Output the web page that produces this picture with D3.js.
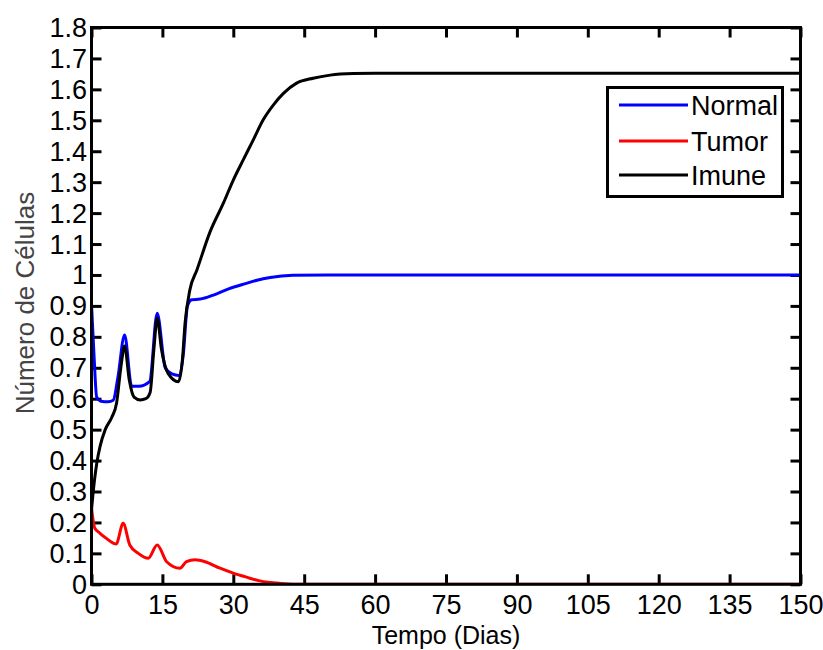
<!DOCTYPE html>
<html>
<head>
<meta charset="utf-8">
<script src="https://cdn.jsdelivr.net/npm/d3@7"></script>
<style>
  html, body { margin: 0; padding: 0; background: #fff; }
  svg { display: block; }
  text { font-family: "Liberation Sans", Arial, sans-serif; fill: #000; }
</style>
</head>
<body>
<svg id="chart" width="823" height="650"></svg>
<script>
// ---- data ----
const xTicks = [0, 15, 30, 45, 60, 75, 90, 105, 120, 135, 150];
const yTicks = [0, 0.1, 0.2, 0.3, 0.4, 0.5, 0.6, 0.7, 0.8, 0.9, 1, 1.1, 1.2, 1.3, 1.4, 1.5, 1.6, 1.7, 1.8];
const seriesNames = ["Normal", "Tumor", "Imune"];
const seriesColors = ["#0000ff", "#ff0000", "#000000"];

const normalT = [0, 0.5, 1.1, 2, 3.5, 4.6, 5.6, 7.0, 8.5, 10, 12.3, 13.9, 15.6, 17, 18.5, 19.4, 20.3, 21.2, 23, 25.8, 29, 32.8, 35, 37.8, 42.6, 50, 150];
const normalV = [0.905, 0.75, 0.605, 0.592, 0.59, 0.595, 0.67, 0.806, 0.64, 0.64, 0.655, 0.876, 0.70, 0.68, 0.675, 0.74, 0.9, 0.92, 0.922, 0.935, 0.955, 0.973, 0.983, 0.992, 0.999, 1.0, 1.0];

const tumorT = [0, 0.7, 1.8, 3, 4.6, 5.2, 6.7, 8.1, 9.9, 12, 13.9, 15.9, 18.7, 20.1, 21.9, 24, 27.2, 30, 32.8, 35.6, 39.9, 45, 150];
const tumorV = [0.246, 0.181, 0.165, 0.15, 0.133, 0.13, 0.197, 0.127, 0.1, 0.084, 0.127, 0.073, 0.052, 0.073, 0.079, 0.073, 0.052, 0.036, 0.023, 0.011, 0.003, 0, 0];

const imuneT = [0, 0.3, 1.1, 1.8, 2.9, 4.3, 5.3, 6.2, 7.0, 8.0, 9.0, 10.3, 11.5, 12.4, 13.2, 13.9, 14.8, 16.2, 18.4, 19.2, 19.8, 20.8, 22.3, 25.1, 27.9, 30, 32.1, 34.2, 36.3, 38.5, 40.6, 43.4, 46.9, 50.5, 55.4, 60, 150];
const imuneV = [0.24, 0.29, 0.39, 0.445, 0.50, 0.54, 0.585, 0.70, 0.77, 0.66, 0.605, 0.596, 0.60, 0.62, 0.76, 0.86, 0.76, 0.682, 0.655, 0.72, 0.845, 0.951, 1.016, 1.14, 1.232, 1.307, 1.372, 1.436, 1.501, 1.55, 1.587, 1.62, 1.636, 1.646, 1.651, 1.652, 1.652];

// ---- layout ----
const svg = d3.select("#chart");
const L = 91.5, R = 800.5, T = 27.5, B = 584.3;
const x = d3.scaleLinear().domain([0, 150]).range([L, R]);
const y = d3.scaleLinear().domain([0, 1.8]).range([B, T]);
const FS = 27;

const fmt = d => d3.format("")(Math.round(d * 10) / 10);

// axes
const gx = svg.append("g").attr("transform", `translate(0,${B})`)
  .call(d3.axisBottom(x).tickValues(xTicks).tickSizeInner(-10).tickSizeOuter(0).tickPadding(0).tickFormat(d3.format("d")));
gx.select(".domain").remove();
gx.selectAll("line").attr("stroke", "#000").attr("stroke-width", 3);
gx.selectAll("text").attr("y", 30).attr("dy", null).style("font-size", FS + "px");

const gxt = svg.append("g").attr("transform", `translate(0,${T})`)
  .call(d3.axisTop(x).tickValues(xTicks).tickSizeInner(-10).tickSizeOuter(0).tickFormat(""));
gxt.select(".domain").remove();
gxt.selectAll("line").attr("stroke", "#000").attr("stroke-width", 3);

const gy = svg.append("g").attr("transform", `translate(${L},0)`)
  .call(d3.axisLeft(y).tickValues(yTicks).tickSizeInner(-10).tickSizeOuter(0).tickPadding(4.5).tickFormat(fmt));
gy.select(".domain").remove();
gy.selectAll("line").attr("stroke", "#000").attr("stroke-width", 3);
gy.selectAll("text").attr("dy", null).attr("y", 9).style("font-size", FS + "px");

const gyr = svg.append("g").attr("transform", `translate(${R},0)`)
  .call(d3.axisRight(y).tickValues(yTicks).tickSizeInner(-10).tickSizeOuter(0).tickFormat(""));
gyr.select(".domain").remove();
gyr.selectAll("line").attr("stroke", "#000").attr("stroke-width", 3);

// lines
const series = [
  { t: normalT, v: normalV },
  { t: tumorT, v: tumorV },
  { t: imuneT, v: imuneV }
];
const line = d3.line().x(d => x(d[0])).y(d => y(d[1])).curve(d3.curveMonotoneX);
const clip = svg.append("clipPath").attr("id", "clip").append("rect")
  .attr("x", L).attr("y", T - 2).attr("width", R - L).attr("height", B - T + 2);
series.forEach((s, i) => {
  svg.append("path")
    .datum(s.t.map((t, j) => [t, s.v[j]]))
    .attr("d", line)
    .attr("fill", "none")
    .attr("stroke", seriesColors[i])
    .attr("stroke-width", 3)
    .attr("stroke-linejoin", "round")
    .attr("clip-path", "url(#clip)");
});

// frame
svg.append("rect").attr("x", L).attr("y", T).attr("width", R - L).attr("height", B - T)
  .attr("fill", "none").attr("stroke", "#000").attr("stroke-width", 3);

// legend
const lg = svg.append("g");
lg.append("rect").attr("x", 607.5).attr("y", 87.5).attr("width", 175).attr("height", 109)
  .attr("fill", "#fff").attr("stroke", "#000").attr("stroke-width", 3);
const legY = [105, 141, 175];
seriesNames.forEach((n, i) => {
  lg.append("line").attr("x1", 619).attr("x2", 688).attr("y1", legY[i]).attr("y2", legY[i])
    .attr("stroke", seriesColors[i]).attr("stroke-width", 3);
  lg.append("text").attr("x", 691).attr("y", legY[i] + 9.5).style("font-size", FS + "px").text(n);
});

// axis labels
svg.append("text").attr("x", (L + R) / 2).attr("y", 644).attr("text-anchor", "middle")
  .style("font-size", "25px").text("Tempo (Dias)");
svg.append("text").attr("transform", `translate(34,303) rotate(-90)`).attr("text-anchor", "middle")
  .style("font-size", "26px").style("fill", "#444").text("Número de Células");
</script>
</body>
</html>
